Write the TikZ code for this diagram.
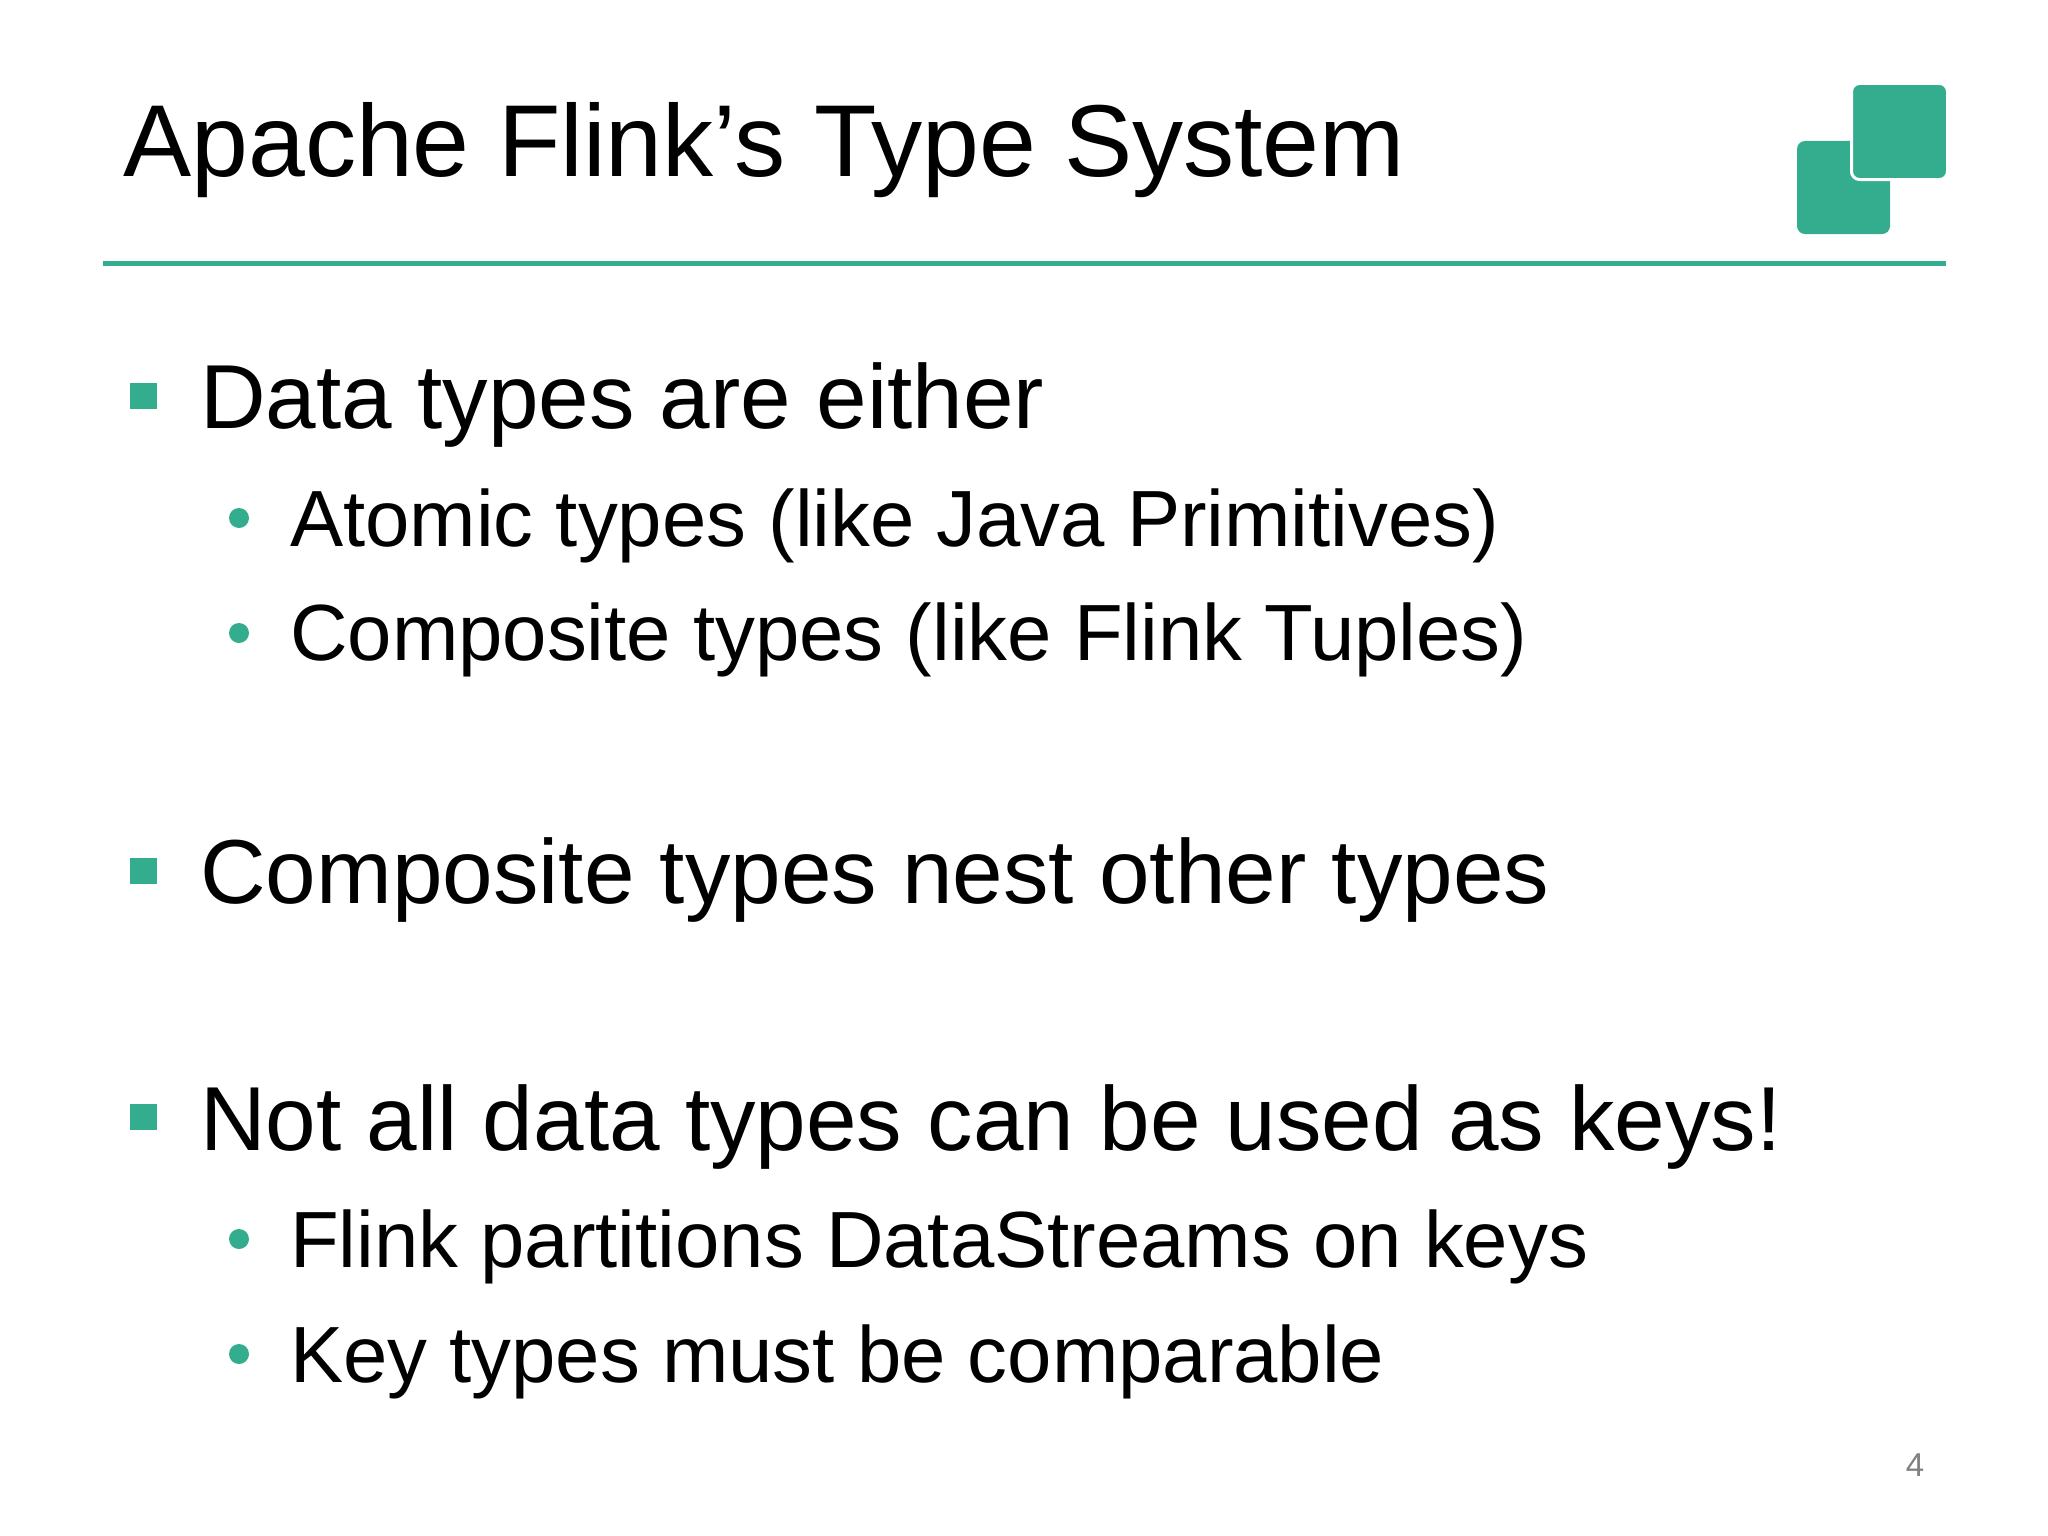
\documentclass[tikz,border=0pt]{standalone}
\usepackage{fontspec}
\setmainfont{Liberation Sans}
\definecolor{flinkgreen}{HTML}{34AC8E}
\tikzset{
  titletext/.style={anchor=base west,inner sep=0,font=\fontsize{102.2pt}{102.2pt}\selectfont,text=black},
  maintext/.style={anchor=base west,inner sep=0,font=\fontsize{90.9pt}{90.9pt}\selectfont,text=black},
  subtext/.style={anchor=base west,inner sep=0,font=\fontsize{79.7pt}{79.7pt}\selectfont,text=black},
  squarebullet/.style={fill=flinkgreen,inner sep=0,minimum size=26.5pt},
  roundbullet/.style={circle,fill=flinkgreen,inner sep=0,minimum size=20pt},
  logobox/.style={fill=flinkgreen,draw=white,line width=3pt,rounded corners=8pt},
}
\begin{document}
\begin{tikzpicture}[x=1pt,y=-1pt]
    \pgfmathsetmacro{\mainx}{200}
    \pgfmathsetmacro{\subx}{290}
    \pgfmathsetmacro{\squarex}{143.5}
    \pgfmathsetmacro{\roundx}{239}
    \useasboundingbox (0,0) rectangle (2048,1536);
    \fill[white] (0,0) rectangle (2048,1536);
    % title and logo
    \node[titletext] (title) at (123,176) {Apache Flink’s Type System};
    \fill[flinkgreen,rounded corners=8pt] (1797,141) rectangle (1890,234);
    \filldraw[logobox] (1851.5,83.5) rectangle (1947.5,179.5);
    \fill[flinkgreen] (103,260.5) rectangle (1946,266);
    % first group
    \node[squarebullet] (b1) at (\squarex,396) {};
    \node[maintext] (t1) at (\mainx,428) {Data types are either};
    \node[roundbullet] (b11) at (\roundx,518) {};
    \node[subtext] (t11) at (\subx,546) {Atomic types (like Java Primitives)};
    \node[roundbullet] (b12) at (\roundx,633) {};
    \node[subtext] (t12) at (\subx,660) {Composite types (like Flink Tuples)};
    % second group
    \node[squarebullet] (b2) at (\squarex,871) {};
    \node[maintext] (t2) at (\mainx,903.5) {Composite types nest other types};
    % third group
    \node[squarebullet] (b3) at (\squarex,1117) {};
    \node[maintext] (t3) at (\mainx,1150) {Not all data types can be used as keys!};
    \node[roundbullet] (b31) at (\roundx,1239) {};
    \node[subtext] (t31) at (\subx,1267) {Flink partitions DataStreams on keys};
    \node[roundbullet] (b32) at (\roundx,1354) {};
    \node[subtext] (t32) at (\subx,1382) {Key types must be comparable};
    % page number
    \node[inner sep=0,font=\fontsize{33pt}{33pt}\selectfont,text=black!50] (pagenum) at (1915,1465) {4};
\end{tikzpicture}
\end{document}
